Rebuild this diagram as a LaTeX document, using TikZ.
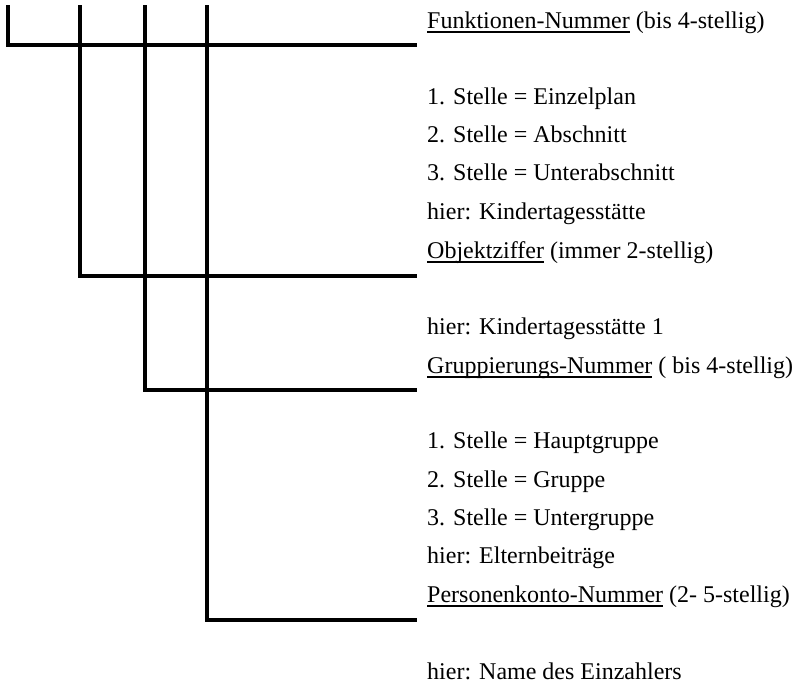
\documentclass[tikz,border=0pt]{standalone}
\usepackage{fontspec}
\setmainfont{Liberation Serif}
\newcommand{\fieldul}[1]{\setbox0\hbox{#1}\rlap{\rule[-4.5pt]{\wd0}{1.2pt}}\box0\relax}
\tikzset{bar/.style={line width=4pt,black},
         entry/.style={anchor=base west,inner sep=0pt,font=\fontsize{24}{28}\selectfont}}

\begin{document}
\begin{tikzpicture}[x=1pt,y=-1pt]
                  \useasboundingbox (0,0) rectangle (796,683);
                  % Stammlinien
                  \coordinate (top1) at (8,5);
                  \coordinate (top2) at (80,5);
                  \coordinate (top3) at (145,5);
                  \coordinate (top4) at (207,5);
                  \coordinate (end1) at (417,45);
                  \coordinate (end2) at (417,276);
                  \coordinate (end3) at (417,390);
                  \coordinate (end4) at (417,620);
                  \draw[bar] (top1) |- (end1);
                  \draw[bar] (top2) |- (end2);
                  \draw[bar] (top3) |- (end3);
                  \draw[bar] (top4) |- (end4);
                  % Texte
                  \node[entry] (fn) at (427,28) {\fieldul{Funktionen-Nummer} (bis 4-stellig)};
                  \node[entry] (fn1) at (427,104) {1. Stelle = Einzelplan};
                  \node[entry] (fn2) at (427,142) {2. Stelle = Abschnitt};
                  \node[entry] (fn3) at (427,180) {3. Stelle = Unterabschnitt};
                  \node[entry] (fnhier) at (427,219) {hier: Kindertagesstätte};
                  \node[entry] (obj) at (427,258) {\fieldul{Objektziffer} (immer 2-stellig)};
                  \node[entry] (objhier) at (427,334) {hier: Kindertagesstätte 1};
                  \node[entry] (grp) at (427,373) {\fieldul{Gruppierungs-Nummer} ( bis 4-stellig)};
                  \node[entry] (grp1) at (427,448) {1. Stelle = Hauptgruppe};
                  \node[entry] (grp2) at (427,487) {2. Stelle = Gruppe};
                  \node[entry] (grp3) at (427,525) {3. Stelle = Untergruppe};
                  \node[entry] (grphier) at (427,563) {hier: Elternbeiträge};
                  \node[entry] (pk) at (427,602) {\fieldul{Personenkonto-Nummer} (2- 5-stellig)};
                  \node[entry] (pkhier) at (427,679) {hier: Name des Einzahlers};
              \end{tikzpicture}
\end{document}
